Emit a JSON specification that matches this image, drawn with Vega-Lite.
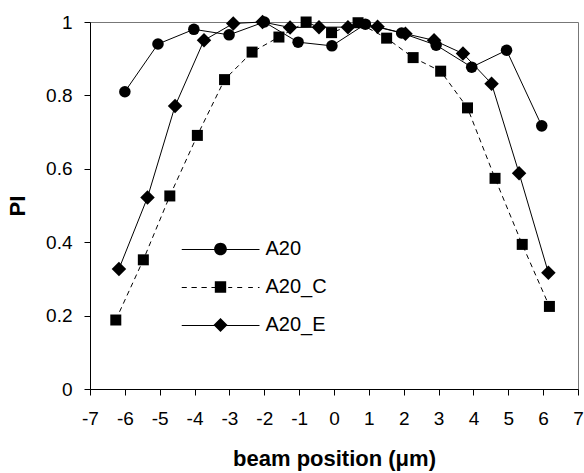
{
  "$schema": "https://vega.github.io/schema/vega-lite/v6.json",
  "width": 488,
  "height": 367,
  "autosize": "none",
  "padding": {"left": 90, "top": 22, "right": 6, "bottom": 84},
  "background": "white",
  "config": {
    "view": {"stroke": "#777777", "strokeWidth": 1},
    "font": "Liberation Sans",
    "axis": {
      "grid": false,
      "domainColor": "black",
      "domainWidth": 1,
      "tickColor": "black",
      "tickWidth": 1,
      "tickSize": 6,
      "labelColor": "black",
      "titleColor": "black",
      "labelFont": "Liberation Sans",
      "titleFont": "Liberation Sans",
      "labelFontSize": 19,
      "titleFontSize": 22,
      "titleFontWeight": "bold",
      "labelFlush": false,
      "labelOverlap": false
    }
  },
  "data": {
    "values": [
      {"series": "A20", "x": -6.0, "y": 0.81},
      {"series": "A20", "x": -5.05, "y": 0.94},
      {"series": "A20", "x": -4.02, "y": 0.98},
      {"series": "A20", "x": -3.01, "y": 0.965},
      {"series": "A20", "x": -2.0, "y": 1.0},
      {"series": "A20", "x": -1.03, "y": 0.945},
      {"series": "A20", "x": -0.06, "y": 0.935},
      {"series": "A20", "x": 0.9, "y": 0.994},
      {"series": "A20", "x": 1.94, "y": 0.97},
      {"series": "A20", "x": 2.93, "y": 0.937},
      {"series": "A20", "x": 3.95, "y": 0.877},
      {"series": "A20", "x": 4.95, "y": 0.923},
      {"series": "A20", "x": 5.96, "y": 0.717},
      {"series": "A20_C", "x": -6.26, "y": 0.188},
      {"series": "A20_C", "x": -5.47, "y": 0.352},
      {"series": "A20_C", "x": -4.71, "y": 0.526},
      {"series": "A20_C", "x": -3.92, "y": 0.691},
      {"series": "A20_C", "x": -3.14, "y": 0.843},
      {"series": "A20_C", "x": -2.35, "y": 0.918},
      {"series": "A20_C", "x": -1.58, "y": 0.959},
      {"series": "A20_C", "x": -0.8, "y": 1.0},
      {"series": "A20_C", "x": -0.07, "y": 0.971},
      {"series": "A20_C", "x": 0.69, "y": 0.998},
      {"series": "A20_C", "x": 1.51, "y": 0.956},
      {"series": "A20_C", "x": 2.27, "y": 0.903},
      {"series": "A20_C", "x": 3.06, "y": 0.866},
      {"series": "A20_C", "x": 3.83, "y": 0.766},
      {"series": "A20_C", "x": 4.62, "y": 0.574},
      {"series": "A20_C", "x": 5.4, "y": 0.394},
      {"series": "A20_C", "x": 6.18, "y": 0.225},
      {"series": "A20_E", "x": -6.17, "y": 0.327},
      {"series": "A20_E", "x": -5.35, "y": 0.522},
      {"series": "A20_E", "x": -4.56, "y": 0.771},
      {"series": "A20_E", "x": -3.73, "y": 0.95},
      {"series": "A20_E", "x": -2.89, "y": 0.996},
      {"series": "A20_E", "x": -2.05, "y": 1.0},
      {"series": "A20_E", "x": -1.26, "y": 0.985},
      {"series": "A20_E", "x": -0.43, "y": 0.986},
      {"series": "A20_E", "x": 0.4, "y": 0.986},
      {"series": "A20_E", "x": 1.25, "y": 0.987},
      {"series": "A20_E", "x": 2.05, "y": 0.968},
      {"series": "A20_E", "x": 2.87, "y": 0.95},
      {"series": "A20_E", "x": 3.7, "y": 0.914},
      {"series": "A20_E", "x": 4.52, "y": 0.832},
      {"series": "A20_E", "x": 5.31, "y": 0.588},
      {"series": "A20_E", "x": 6.15, "y": 0.317}
    ]
  },
  "encoding": {
    "x": {
      "field": "x",
      "type": "quantitative",
      "scale": {"domain": [-7, 7], "nice": false, "zero": false},
      "axis": {
        "values": [-7, -6, -5, -4, -3, -2, -1, 0, 1, 2, 3, 4, 5, 6, 7],
        "labelExpr": "'' + datum.value",
        "title": "beam position (μm)",
        "labelPadding": 14,
        "titlePadding": 20
      }
    },
    "y": {
      "field": "y",
      "type": "quantitative",
      "scale": {"domain": [0, 1], "nice": false},
      "axis": {
        "values": [0, 0.2, 0.4, 0.6, 0.8, 1],
        "format": "~g",
        "title": "PI",
        "labelPadding": 12,
        "titlePadding": 16
      }
    }
  },
  "layer": [
    {
      "transform": [{"filter": "datum.series !== 'A20_C'"}],
      "mark": {"type": "line", "color": "black", "strokeWidth": 1},
      "encoding": {"detail": {"field": "series", "type": "nominal"}}
    },
    {
      "transform": [{"filter": "datum.series === 'A20_C'"}],
      "mark": {"type": "line", "color": "black", "strokeWidth": 1, "strokeDash": [5, 4]},
      "encoding": {}
    },
    {
      "transform": [{"filter": "datum.series === 'A20'"}],
      "mark": {"type": "point", "shape": "circle", "filled": true, "color": "black", "size": 133, "opacity": 1}
    },
    {
      "transform": [{"filter": "datum.series === 'A20_C'"}],
      "mark": {"type": "point", "shape": "square", "filled": true, "color": "black", "size": 121, "opacity": 1}
    },
    {
      "transform": [{"filter": "datum.series === 'A20_E'"}],
      "mark": {"type": "point", "shape": "diamond", "filled": true, "color": "black", "size": 210, "opacity": 1}
    },
    {
      "mark": {"type": "point", "filled": true, "color": "black", "size": 0, "opacity": 1},
      "encoding": {
        "shape": {
          "field": "series",
          "type": "nominal",
          "scale": {
            "domain": ["A20", "A20_C", "A20_E"],
            "range": [
              "M-1,0H1V0.0256H-1ZM0.163,0A0.163,0.163,0,1,1,-0.163,0A0.163,0.163,0,1,1,0.163,0Z",
              "M-1,0H-0.864V0.0256H-1ZM-0.744,0H-0.608V0.0256H-0.744ZM-0.488,0H-0.352V0.0256H-0.488ZM-0.232,0H-0.146V0.0256H-0.232ZM0.197,0H0.3V0.0256H0.197ZM0.428,0H0.556V0.0256H0.428ZM0.71,0H0.83V0.0256H0.71ZM0.96,0H1V0.0256H0.96ZM-0.146,-0.146H0.146V0.146H-0.146Z",
              "M-1,0H1V0.0256H-1ZM-0.18,0L0,-0.18L0.18,0L0,0.18Z"
            ]
          },
          "legend": {
            "title": null,
            "orient": "none",
            "legendX": 91.5,
            "legendY": 220,
            "padding": 0,
            "symbolSize": 6084,
            "symbolFillColor": "black",
            "symbolStrokeColor": "black",
            "symbolStrokeWidth": 0,
            "symbolOpacity": 1,
            "clipHeight": 14,
            "rowPadding": 18,
            "labelFont": "Liberation Sans",
            "labelFontSize": 20,
            "labelColor": "black",
            "labelOffset": 6,
            "labelLimit": 300,
            "encode": {
              "symbols": {
                "fill": {"value": "black"},
                "opacity": {"value": 1}
              }
            }
          }
        }
      }
    }
  ]
}
